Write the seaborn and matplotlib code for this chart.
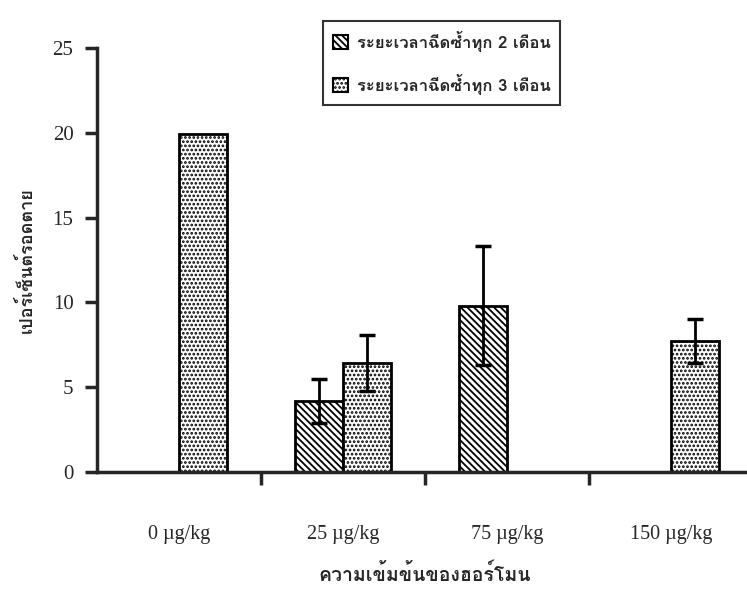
"""Survival percentage by hormone concentration and re-injection interval"""

import matplotlib

matplotlib.use("Agg")

import matplotlib.pyplot as plt
import pandas as pd
import seaborn as sns
from fontTools.ttLib import TTFont
from matplotlib import font_manager

# Data
doses = ["0 µg/kg", "25 µg/kg", "75 µg/kg", "150 µg/kg"]
series = ["ระยะเวลาฉีดซ้ำทุก 2 เดือน", "ระยะเวลาฉีดซ้ำทุก 3 เดือน"]
every2_mean = [None, 4.2, 9.8, None]
every2_err = [None, 1.3, 3.5, None]
every3_mean = [19.9, 6.4, None, 7.7]
every3_err = [None, 1.65, None, 1.3]


def find_thai_font():
    """Return the name of an installed font that has Thai glyphs"""
    for f in font_manager.fontManager.ttflist:
        try:
            font = TTFont(f.fname, fontNumber=0, lazy=True)
            cmap = font.getBestCmap()
        except Exception:
            continue
        if cmap and 0x0E01 in cmap:
            return f.name
    return None


thai_font = find_thai_font()
thai_family = [thai_font, "DejaVu Sans"] if thai_font else ["DejaVu Sans"]
serif = "Liberation Serif"

rows = []
for name, means in zip(series, [every2_mean, every3_mean]):
    for dose, m in zip(doses, means):
        if m is not None:
            rows.append({"dose": dose, "series": name, "value": m})
df = pd.DataFrame(rows)
errs = {series[0]: every2_err, series[1]: every3_err}

sns.set_style("ticks")
plt.rcParams["hatch.linewidth"] = 1.3
fig = plt.figure(figsize=(7.47, 5.94), dpi=100)
ax = fig.add_axes([0.130, 0.2054, 0.878, 0.714])

sns.barplot(
    data=df,
    x="dose",
    y="value",
    hue="series",
    order=doses,
    hue_order=series,
    dodge=True,
    errorbar=None,
    width=0.585,
    palette=["white", "white"],
    edgecolor="black",
    linewidth=2,
    ax=ax,
)

hatches = ["\\\\\\\\\\", "...."]
for container, name, hatch in zip(ax.containers, series, hatches):
    for bar in container:
        bar.set_hatch(hatch)
        bar.set_edgecolor("black")
        cx = bar.get_x() + bar.get_width() / 2
        idx = int(round(cx))
        err = errs[name][idx]
        if err is not None:
            ax.errorbar(
                cx, bar.get_height(), yerr=err, color="black",
                elinewidth=2, capsize=6, capthick=2.5, zorder=5,
            )

ax.set_xlim(-0.5, 3.5)
ax.set_ylim(0, 25)
ax.set_yticks([0, 5, 10, 15, 20, 25])
ax.set_xticks([0.5, 1.5, 2.5])
ax.set_xticklabels([])
ax.set_xticks(range(len(doses)), minor=True)
ax.set_xticklabels(doses, minor=True)
ax.tick_params(axis="x", which="major", length=9, width=2.5, direction="out")
ax.tick_params(axis="x", which="minor", length=0, pad=38, labelsize=14.5)
ax.tick_params(axis="y", length=9, width=2.5, direction="out", pad=8, labelsize=15)
for lab in ax.get_xticklabels(minor=True) + ax.get_yticklabels():
    lab.set_family(serif)

sns.despine(ax=ax)
for side in ["left", "bottom"]:
    ax.spines[side].set_linewidth(2.5)

ax.set_xlabel("ความเข้มข้นของฮอร์โมน", family=thai_family, fontsize=14,
              fontweight="bold", labelpad=14)
ax.set_ylabel("เปอร์เซ็นต์รอดตาย", family=thai_family, fontsize=13,
              fontweight="bold", labelpad=12)

leg = ax.legend(
    loc="upper left",
    bbox_to_anchor=(0.332, 1.083),
    prop={"family": thai_family, "size": 12, "weight": "bold"},
    frameon=True,
    fancybox=False,
    edgecolor="black",
    handlelength=0.9,
    handleheight=0.9,
    handletextpad=0.5,
    labelspacing=1.3,
    borderpad=0.6,
)
leg.get_frame().set_linewidth(1.5)
for handle, hatch in zip(leg.legend_handles, hatches):
    handle.set_hatch(hatch)
    handle.set_edgecolor("black")
    handle.set_linewidth(1.5)

plt.savefig("out.png", dpi=100)
